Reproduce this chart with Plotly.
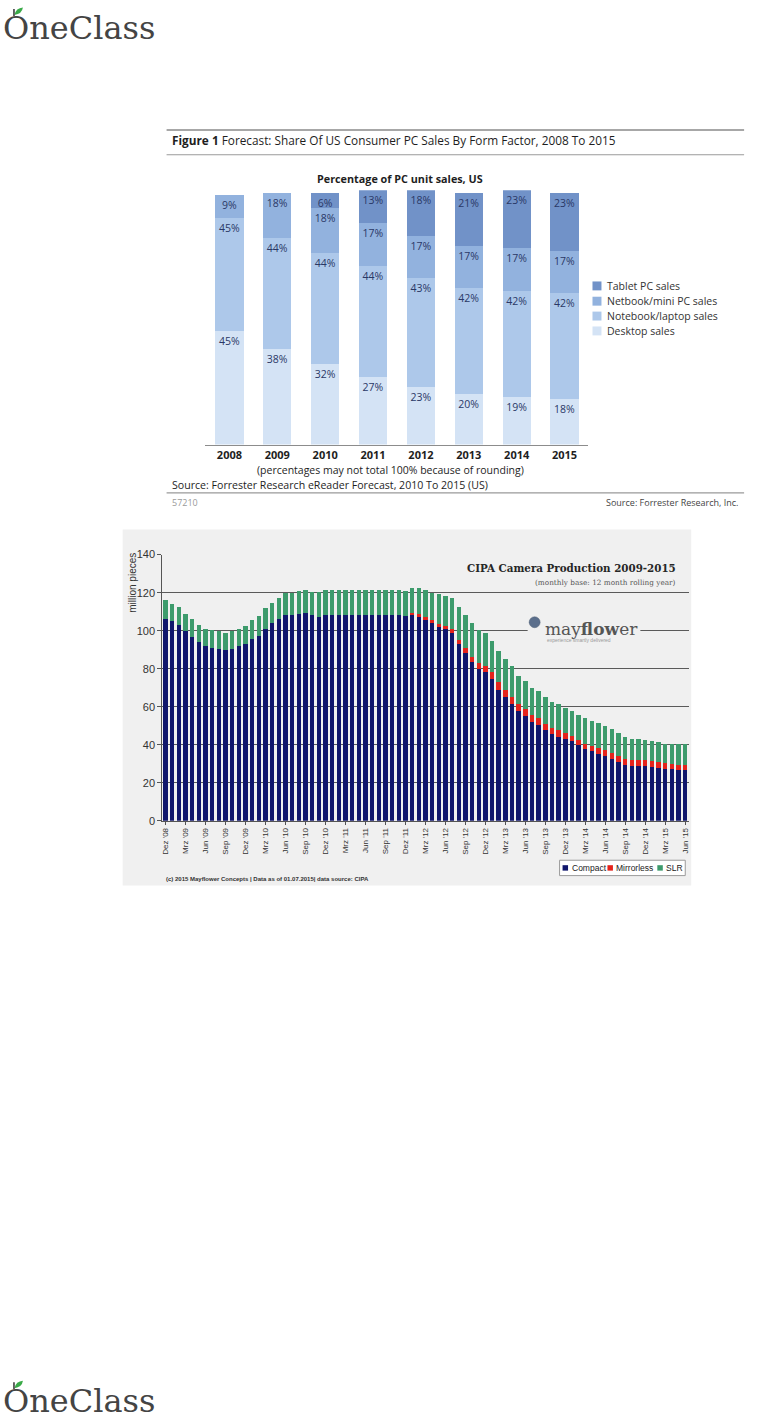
import plotly.graph_objects as go

W, H = 784, 1422
def px(x): return x / W
def py(y): return 1 - y / H

# ---------------- Chart 1 data ----------------
years = ["2008", "2009", "2010", "2011", "2012", "2013", "2014", "2015"]
desktop = [45, 38, 32, 27, 23, 20, 19, 18]
notebook = [45, 44, 44, 44, 43, 42, 42, 42]
netbook = [9, 18, 18, 17, 17, 17, 17, 17]
tablet = [0, 0, 6, 13, 18, 21, 23, 23]
names1 = ["Desktop sales", "Notebook/laptop sales", "Netbook/mini PC sales", "Tablet PC sales"]
colors1 = ["#d4e3f5", "#adc8ea", "#92b2de", "#7192c8"]

# ---------------- Chart 2 data ----------------
tick_labels = ["Dez '08", "Mrz '09", "Jun '09", "Sep '09", "Dez '09", "Mrz '10", "Jun '10",
               "Sep '10", "Dez '10", "Mrz '11", "Jun '11", "Sep '11", "Dez '11", "Mrz '12",
               "Jun '12", "Sep '12", "Dez '12", "Mrz '13", "Jun '13", "Sep '13", "Dez '13",
               "Mrz '14", "Jun '14", "Sep '14", "Dez '14", "Mrz '15", "Jun '15"]
month_names = ["Jan", "Feb", "Mrz", "Apr", "Mai", "Jun", "Jul", "Aug", "Sep", "Okt", "Nov", "Dez"]
periods = ["Dez '08"] + [f"{m} '{y:02d}" for y in range(9, 16) for m in month_names][:78]

compact = [106.4, 104.9, 103.0, 100.0, 96.5, 93.9, 92.0, 90.8, 90.6, 89.6,
           90.3, 91.8, 93.0, 95.5, 97.2, 100.9, 103.8, 105.9, 108.0, 108.5,
           109.0, 109.4, 108.2, 107.3,
           108.4, 108.5, 108.4, 108.4, 108.5, 108.4, 108.4, 108.5, 108.4, 108.4, 108.5, 108.4,
           107.5, 108.8, 107.8, 105.8, 103.8, 101.9, 100.7, 98.6, 92.9, 88.5, 83.3, 79.8, 78.2,
           74.4, 69.0, 65.2, 61.4, 57.7, 55.1, 52.2, 50.4, 47.5, 45.6,
           44.3, 43.0, 41.7, 40.0, 37.7, 36.5, 35.3, 33.9, 32.5, 31.0,
           29.6, 29.0, 29.0, 28.7, 28.3, 27.8, 27.3, 27.0, 26.6, 26.6]
mirrorless = [0] * 37 + [0.3, 0.8, 1.2, 1.7, 1.7, 1.7, 2.1, 2.3, 2.6, 3.0,
                         3.0, 3.0, 3.8, 4.0, 3.8, 3.8, 3.7, 3.7, 3.5, 3.9,
                         3.5, 3.1, 3.2, 3.1, 3.1, 2.6, 2.6, 3.0, 3.0, 3.1,
                         3.2, 2.9, 2.9, 3.2, 3.2, 3.1, 3.0, 3.0, 3.1, 3.1,
                         3.0, 3.0]
slr = [9.8, 9.2, 9.2, 9.0, 9.4, 9.2, 8.7, 9.5, 9.1, 9.2,
       9.4, 9.2, 9.6, 10.1, 10.5, 10.9, 10.6, 11.1, 11.7, 11.2,
       11.9, 11.8, 12.3, 12.9,
       13.0, 12.9, 13.0, 13.0, 12.9, 13.0, 13.0, 12.9, 13.0, 13.0, 12.9, 13.0,
       13.3, 13.5, 14.0, 14.2, 14.2, 15.5, 15.9, 16.3, 17.0, 17.2, 17.7, 17.5, 17.6,
       16.5, 16.2, 16.2, 16.0, 14.8, 14.8, 14.4, 13.9, 14.2, 13.9,
       13.7, 13.0, 12.9, 13.1, 13.6, 13.0, 13.0, 12.6, 12.5, 12.2,
       11.8, 10.8, 10.8, 10.5, 10.4, 10.4, 10.1, 10.2, 10.7, 10.7]
names2 = ["Compact", "Mirrorless", "SLR"]
colors2 = ["#10166c", "#e5231b", "#3d9b6c"]

fig = go.Figure()

# Chart 1 traces
for name, vals, col in zip(names1, [desktop, notebook, netbook, tablet], colors1):
    fig.add_trace(go.Bar(
        x=years, y=vals, name=name, marker=dict(color=col, line=dict(width=0)),
        width=0.59, text=[f"{v}%" if v else "" for v in vals],
        textposition="inside", insidetextanchor="end", textangle=0, constraintext="none",
        textfont=dict(family="Open Sans", size=10.5, color="#2a3866"),
        xaxis="x", yaxis="y", showlegend=False))

# Chart 2 traces
for name, vals, col in zip(names2, [compact, mirrorless, slr], colors2):
    fig.add_trace(go.Bar(
        x=periods, y=vals, name=name, marker=dict(color=col, line=dict(width=0)),
        width=0.66, xaxis="x2", yaxis="y2", showlegend=False))

shapes = []
ann = []

def line(x0, y0, x1, y1, color, w=1):
    shapes.append(dict(type="line", xref="paper", yref="paper", x0=px(x0), y0=py(y0),
                       x1=px(x1), y1=py(y1), line=dict(color=color, width=w)))

def rect(x0, y0, x1, y1, fill, layer="above", lc=None, lw=0):
    shapes.append(dict(type="rect", xref="paper", yref="paper", x0=px(x0), y0=py(y0),
                       x1=px(x1), y1=py(y1), fillcolor=fill, layer=layer,
                       line=dict(color=lc or fill, width=lw)))

def text(x, y, s, size, color="#222", family="Open Sans", xa="left", ya="middle", angle=0, weight=None):
    f = dict(family=family, size=size, color=color)
    if weight:
        f["weight"] = weight
    ann.append(dict(x=px(x), y=py(y), xref="paper", yref="paper", text=s, showarrow=False,
                    xanchor=xa, yanchor=ya, font=f, textangle=angle))

# ---- OneClass logos ----
for cy, ly in [(22, 0), (1407, 1385)]:
    text(0, cy, "OneClass", 32, "#444444", "DejaVu Serif", weight=300)
    shapes.append(dict(type="path", xref="paper", yref="paper",
                       path=f"M {px(13.5)},{py(ly+9)} Q {px(15)},{py(ly+2)} {px(22)},{py(ly+1.5)} Q {px(21)},{py(ly+8)} {px(13.5)},{py(ly+9)} Z",
                       fillcolor="#3aaa48", line=dict(width=0)))
    line(13, ly + 3, 13, ly + 10, "#333", 1.5)

# ---- Chart 1 decoration ----
line(166, 125, 745, 125, "#8a8a8a", 1.5)
line(166, 150, 745, 150, "#9a9a9a", 1.2)
line(166, 491, 745, 491, "#9a9a9a", 1.2)
text(169, 135, "<b>Figure 1</b> Forecast: Share Of US Consumer PC Sales By Form Factor, 2008 To 2015", 11.8, "#1e1e1e")
text(400, 173.5, "<b>Percentage of PC unit sales, US</b>", 10.8, "#1e1e1e", xa="center")
text(390, 468.3, "(percentages may not total 100% because of rounding)", 10.5, "#1e1e1e", xa="center")
text(169, 483.3, "Source: Forrester Research eReader Forecast, 2010 To 2015 (US)", 10.6, "#1e1e1e")
text(169, 501, "57210", 9, "#9a9a9a")
text(742, 501, "Source: Forrester Research, Inc.", 9, "#444", xa="right")
leg_rows = [(282.3, 3), (297.7, 2), (312.7, 1), (327.7, 0)]
for yy, i in leg_rows:
    rect(593, yy - 4.5, 602, yy + 4.5, colors1[i])
    text(606, yy, names1[i], 10.5, "#333")

# ---- Chart 2 decoration ----
rect(122, 528, 692, 887, "#f0f0f0", layer="below")
text(679, 567, "<b>CIPA Camera Production 2009-2015</b>", 10.3, "#262626", "DejaVu Serif", xa="right")
text(679, 581, "(monthly base: 12 month rolling year)", 7.3, "#555", "DejaVu Serif", xa="right")
text(131, 582, "million pieces", 10, "#333", "Liberation Sans", xa="center", angle=-90)
# mayflower logo
rect(528, 623, 641, 637, "#f0f0f0")
shapes.append(dict(type="circle", xref="paper", yref="paper", x0=px(529.5), y0=py(616), x1=px(540.5), y1=py(627),
                   fillcolor="#5b6f8c", line=dict(color="#4a5a70", width=0.5)))
text(543, 628, "may<b>flow</b>er", 17, "#555", "DejaVu Serif")
text(545, 639.5, "experience smartly delivered", 5, "#999", "Liberation Sans")
text(163, 880, "<b>(c) 2015 Mayflower Concepts | Data as of 01.07.2015| data source: CIPA</b>", 6, "#333", "Liberation Sans")
# legend chart 2
rect(560, 861.5, 686, 877, "#ffffff", lc="#9a9a9a", lw=1)
leg2 = [(563, 570, 0), (608, 615, 1), (658, 665, 2)]
for sx, tx, i in leg2:
    rect(sx, 866.5, sx + 5.5, 872, colors2[i])
    text(tx, 869.3, names2[i], 8.5, "#222", "Liberation Sans")

fig.update_layout(
    width=W, height=H, margin=dict(l=0, r=0, t=0, b=0),
    paper_bgcolor="white", plot_bgcolor="rgba(0,0,0,0)",
    barmode="stack", showlegend=False,
    xaxis=dict(domain=[px(205), px(589)], range=[-0.5, 7.5], type="category",
               showline=True, linecolor="#8c8c8c", linewidth=1.2, ticks="",
               tickfont=dict(family="Open Sans", size=11, color="#1e1e1e", weight="bold"),
               showgrid=False, zeroline=False, anchor="y", fixedrange=True),
    yaxis=dict(domain=[py(442.3), py(185.8)], range=[0, 101], visible=False, fixedrange=True),
    xaxis2=dict(domain=[px(161.7), px(689.3)], range=[-0.5, 78.5], type="category",
                tickmode="array", tickvals=tick_labels, ticktext=tick_labels, tickangle=-90,
                tickfont=dict(family="Liberation Sans", size=8, color="#333"),
                showline=True, linecolor="#555", linewidth=1, ticks="outside", ticklen=3,
                tickcolor="#555", showgrid=False, zeroline=False, anchor="y2", fixedrange=True),
    yaxis2=dict(domain=[py(821.7), py(553.3)], range=[0, 140], dtick=20, tick0=0,
                showgrid=True, gridcolor="#5a5a5a", gridwidth=1, showline=True, linecolor="#555",
                ticks="outside", ticklen=4, tickcolor="#555",
                tickfont=dict(family="Liberation Sans", size=11, color="#333"),
                zeroline=False, anchor="x2", fixedrange=True),
    shapes=shapes, annotations=ann,
)

fig.write_html("out.html", config={"displayModeBar": False},
               post_script="document.body.style.margin='0px';")
